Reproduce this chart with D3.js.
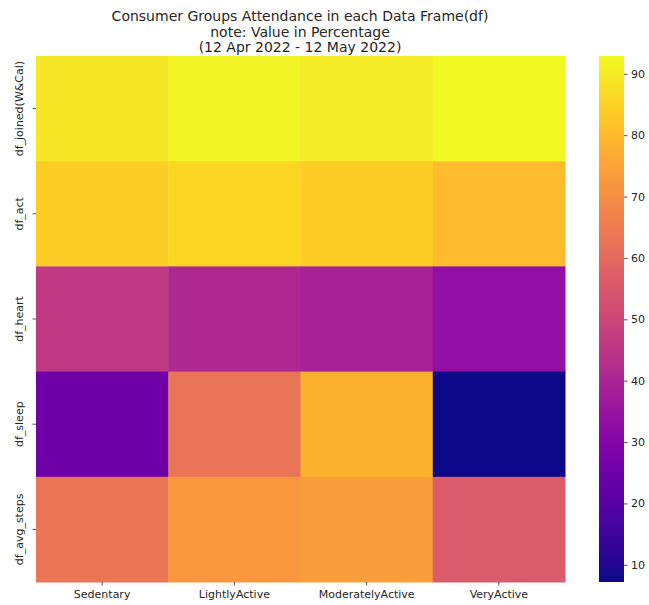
<!DOCTYPE html>
<html><head><meta charset="utf-8">
<script src="https://cdn.jsdelivr.net/npm/d3@7"></script>
<style>body{margin:0;background:#fff}svg{display:block}text{font-family:"DejaVu Sans",sans-serif;fill:#262626}</style>
</head><body><svg id="c" width="649" height="605"></svg>
<script>
const columns = ["Sedentary","LightlyActive","ModeratelyActive","VeryActive"];
const rows = ["df_joined(W&Cal)","df_act","df_heart","df_sleep","df_avg_steps"];
const joinedVals = [89.5, 92.0, 90.5, 92.9];
const actVals = [84.5, 86.0, 84.0, 80.5];
const heartVals = [46.0, 41.0, 39.0, 33.5];
const sleepVals = [25.5, 63.0, 78.5, 7.2];
const stepsVals = [63.5, 72.0, 73.5, 56.0];
const cbTicks = [10,20,30,40,50,60,70,80,90];
const titleLines = ["Consumer Groups Attendance in each Data Frame(df)","note: Value in Percentage","(12 Apr 2022 - 12 May 2022)"];

const matrix = [joinedVals, actVals, heartVals, sleepVals, stepsVals];
const cells = [];
matrix.forEach((r,i)=>r.forEach((v,j)=>cells.push({row:rows[i],col:columns[j],v})));
const all = matrix.flat();
const vmin = d3.min(all), vmax = d3.max(all);

const svg = d3.select("#c");
const L=36,R=565,T=56,B=582;
const x = d3.scaleBand().domain(columns).range([L,R]);
const y = d3.scaleBand().domain(rows).range([T,B]);
const color = d3.scaleSequential(d3.interpolatePlasma).domain([vmin,vmax]);

svg.append("g").selectAll("rect").data(cells).join("rect")
  .attr("x",d=>x(d.col)).attr("y",d=>y(d.row))
  .attr("width",x.bandwidth()+0.5).attr("height",y.bandwidth()+0.5)
  .attr("fill",d=>color(d.v));

const xa = svg.append("g").attr("transform",`translate(0,${B})`)
  .call(d3.axisBottom(x).tickSize(3.5).tickPadding(5));
xa.select(".domain").remove();
xa.selectAll("text").style("font-size","11px").attr("fill","#262626");
xa.selectAll("line").attr("stroke","#262626").attr("stroke-width",0.8);

const ya = svg.append("g").attr("transform",`translate(${L},0)`)
  .call(d3.axisLeft(y).tickSize(3.5).tickPadding(3.5));
ya.select(".domain").remove();
ya.selectAll("line").attr("stroke","#262626").attr("stroke-width",0.8);
ya.selectAll("text").style("font-size","11px").attr("fill","#262626")
  .attr("text-anchor","middle").attr("dy",null).attr("x",null)
  .attr("transform","translate(-13,0) rotate(-90)");

// colorbar
const CL=599, CR=624;
const cy = d3.scaleLinear().domain([vmin,vmax]).range([B,T]);
const defs = svg.append("defs");
const grad = defs.append("linearGradient").attr("id","g").attr("x1",0).attr("y1",1).attr("x2",0).attr("y2",0);
d3.range(0,1.0001,0.05).forEach(t=>grad.append("stop").attr("offset",t).attr("stop-color",d3.interpolatePlasma(t)));
svg.append("rect").attr("x",CL).attr("y",T).attr("width",CR-CL).attr("height",B-T).attr("fill","url(#g)");
const ca = svg.append("g").attr("transform",`translate(${CR},0)`)
  .call(d3.axisRight(cy).tickValues(cbTicks).tickSize(3.5).tickPadding(3.5));
ca.select(".domain").remove();
ca.selectAll("line").attr("stroke","#262626").attr("stroke-width",0.8);
ca.selectAll("text").style("font-size","11px").attr("fill","#262626");

svg.append("g").selectAll("text").data(titleLines).join("text")
  .attr("x",300).attr("y",(d,i)=>21+i*15.5)
  .attr("text-anchor","middle").style("font-size","14px").attr("fill","#000").text(d=>d);
</script></body></html>
